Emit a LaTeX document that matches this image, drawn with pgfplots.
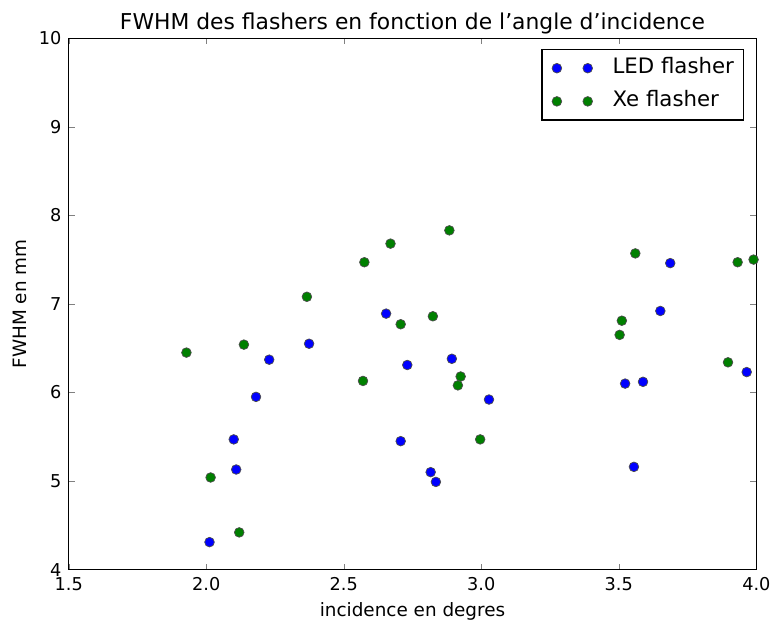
\documentclass[border=0pt]{standalone}
\usepackage{fontspec}
\setmainfont{DejaVu Sans}
\usepackage{pgfplots}
\pgfplotsset{compat=1.18}
\definecolor{mplblue}{rgb}{0,0,1}
\definecolor{mplgreen}{rgb}{0,0.5,0}
\begin{document}
\begin{tikzpicture}
\begin{axis}[
    name=ax,
    width=497.5pt, height=384.5pt,
    scale only axis,
    xmin=1.5, xmax=4.0,
    ymin=4, ymax=10,
    xtick={1.5,2.0,2.5,3.0,3.5,4.0},
    ytick={4,5,6,7,8,9,10},
    /pgf/number format/assume math mode=true,
    tick label style={font=\fontsize{12.8}{15}\selectfont},
    xticklabel style={anchor=base, yshift=-14.9pt,
        /pgf/number format/.cd, fixed, fixed zerofill, precision=1},
    yticklabel style={xshift=-1.7pt},
    tick align=inside,
    major tick length=4.3pt,
    axis line style={line width=0.8pt},
    title={FWHM des flashers en fonction de l'angle d'incidence},
    % the default title style already shifts it up by 6pt
    title style={font=\fontsize{15.8}{19}\selectfont, at={(axis description cs:0.5,1)}, anchor=base},
    xlabel={incidence en degres},
    ylabel={FWHM en mm},
    label style={font=\fontsize{13.3}{16}\selectfont},
    xlabel style={at={(axis description cs:0.5,0)}, anchor=base, yshift=-33.7pt},
    ylabel style={at={(axis description cs:0,0.5)}, anchor=base, yshift=30.5pt},
    legend style={at={(1,1)}, anchor=north east, xshift=-8.6pt, yshift=-7.9pt,
        font=\fontsize{15.4}{18}\selectfont,
        draw=black, line width=0.8pt, inner xsep=7.2pt, inner ysep=6.2pt, row sep=9.5pt,
        nodes={inner xsep=0pt, inner ysep=0pt, text height=11pt, text depth=3.5pt}},
    legend image code/.code={%
        \path[draw=none] (-3.6pt,0pt) -- (40.3pt,0pt);
        \draw[only marks] plot coordinates {(0pt,0pt)(22.3pt,0pt)};},
    legend cell align=left,
    every axis plot/.append style={only marks, mark=*, mark size=3.5pt},
]
\addplot[mplblue, mark options={fill=mplblue, draw=black!70, line width=0.5pt}] coordinates {
    (2.012,4.31) (2.100,5.47) (2.109,5.13) (2.181,5.95) (2.229,6.37)
    (2.374,6.55) (2.654,6.89) (2.731,6.31) (2.707,5.45) (2.816,5.10)
    (2.835,4.99) (2.893,6.38) (3.028,5.92) (3.523,6.10) (3.588,6.12)
    (3.555,5.16) (3.651,6.92) (3.687,7.46) (3.965,6.23)
};
\addlegendentry{LED flasher}
\addplot[mplgreen, mark options={fill=mplgreen, draw=black!70, line width=0.5pt}] coordinates {
    (1.928,6.45) (2.016,5.04) (2.137,6.54) (2.120,4.42) (2.366,7.08)
    (2.575,7.47) (2.570,6.13) (2.670,7.68) (2.707,6.77) (2.824,6.86)
    (2.884,7.83) (2.925,6.18) (2.915,6.08) (2.996,5.47) (3.503,6.65)
    (3.511,6.81) (3.560,7.57) (3.897,6.34) (3.932,7.47) (3.990,7.50)
};
\addlegendentry{Xe flasher}
\end{axis}
\path ([shift={(-49.7pt,-37.1pt)}]ax.south west) rectangle ([shift={(10.8pt,27.6pt)}]ax.north east);
\end{tikzpicture}
\end{document}
